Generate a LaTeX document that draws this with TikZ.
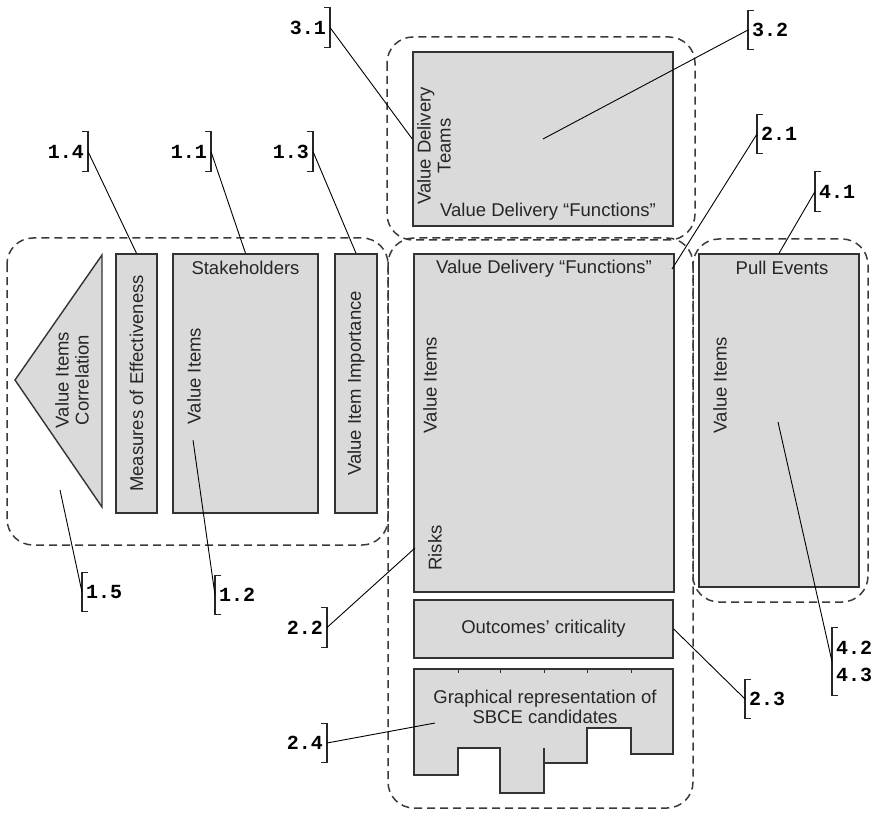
\documentclass[tikz,border=0pt]{standalone}
\usepackage{fontspec}
\setmainfont{Liberation Sans}
\newfontfamily\tagfont{Liberation Mono}
\definecolor{boxfill}{HTML}{DADADA}
\definecolor{boxline}{HTML}{333333}
\definecolor{groupline}{HTML}{3A3A3A}

\begin{document}
\begin{tikzpicture}[x=1pt,y=-1pt,
    box/.style={draw=boxline,fill=boxfill,line width=1.4pt,inner sep=0pt},
    group/.style={draw=groupline,line width=1.5pt,dash pattern=on 8pt off 5pt,rounded corners=26pt},
    txt/.style={text=black!85,font=\fontsize{18.5}{20}\selectfont,inner sep=0pt},
    tag/.style={font=\tagfont\bfseries\fontsize{20}{27}\selectfont,inner xsep=4pt,inner ysep=0pt,minimum height=39pt},
    brak/.style={line width=1.1pt,draw=black!85},
    lead/.style={line width=0.9pt}]
    \useasboundingbox (0,0) rectangle (880,818);

    \draw[group] (7,238) rectangle (388,545);
    \draw[group] (387,37) rectangle (695,240);
    \draw[group] (388,238) rectangle (693,808);
    \draw[group] (693,239) rectangle (868,602);

    \draw[box] (102,255) -- (15,380) -- (102,507) -- cycle;
    \node[box,minimum width=41pt,minimum height=259pt] (moe) at (136.5,383.5) {};
    \node[box,minimum width=145pt,minimum height=259pt] (stake) at (245.5,383.5) {};
    \node[box,minimum width=42pt,minimum height=259pt] (imp) at (356,383.5) {};
    \node[box,minimum width=260pt,minimum height=174pt] (vdteam) at (543,139) {};
    \node[box,minimum width=260pt,minimum height=338pt] (vdf) at (544,423) {};
    \node[box,minimum width=160pt,minimum height=333pt] (pull) at (779,420.5) {};
    \node[box,minimum width=259pt,minimum height=58pt] (outc) at (543.5,629) {};
    \draw[box] (414,669) -- (673,669) -- (673,754) -- (631,754) -- (631,728) -- (587,728)
        -- (587,763) -- (544,763) -- (544,793) -- (500,793) -- (500,748) -- (458,748)
        -- (458,775) -- (414,775) -- cycle;
    \draw[boxline,line width=1.2pt] (544,748) -- (544,763);
    \foreach \x in {458,500,544,587,631} {
        \draw[boxline,line width=1pt] (\x,669) -- (\x,673);
    }

    \node[txt,rotate=90,align=center] (corr) at (72,380) {Value Items\\Correlation};
    \node[txt,rotate=90] (moetxt) at (moe) {Measures of Effectiveness};
    \node[txt] (staketxt) at (245.5,268) {Stakeholders};
    \node[txt,rotate=90] (vistake) at (194,376) {Value Items};
    \node[txt,rotate=90] (imptxt) at (imp) {Value Item Importance};
    \node[txt,rotate=90,align=center] (teamtxt) at (434,146) {Value Delivery\\Teams};
    \node[txt] (functop) at (548,212) {Value Delivery “Functions”};
    \node[txt] (funcmid) at (544,269) {Value Delivery “Functions”};
    \node[txt,rotate=90] (vimid) at (430,385) {Value Items};
    \node[txt,rotate=90] (risks) at (435,548) {Risks};
    \node[txt] (pulltxt) at (782,268) {Pull Events};
    \node[txt,rotate=90] (vipull) at (720,385) {Value Items};
    \node[txt] (outctxt) at (outc) {Outcomes’ criticality};
    \node[txt,align=center] (graphtxt) at (545,706.5) {Graphical representation of\\SBCE candidates};

    \foreach \n/\x/\y/\t in {t31/330/27.5/3.1, t14/88/151.5/1.4, t11/211/151.5/1.1,
        t13/313/151.5/1.3, t22/327/627.5/2.2, t24/327/743/2.4} {
        \node[tag,anchor=east] (\n) at (\x,\y) {\t};
        \draw[brak] ([xshift=-6pt]\n.north east) -- (\n.north east) -- (\n.south east) -- ([xshift=-6pt]\n.south east);
    }
    \foreach \n/\x/\y/\t in {t32/748/30/3.2, t21/757/134/2.1, t41/815/191.5/4.1,
        t15/82/592/1.5, t12/215/595/1.2, t23/745/699/2.3} {
        \node[tag,anchor=west] (\n) at (\x,\y) {\t};
        \draw[brak] ([xshift=6pt]\n.north west) -- (\n.north west) -- (\n.south west) -- ([xshift=6pt]\n.south west);
    }
    \node[tag,anchor=west,align=left,minimum height=67pt] (t42) at (832,661.5) {4.2\\4.3};
    \draw[brak] ([xshift=6pt]t42.north west) -- (t42.north west) -- (t42.south west) -- ([xshift=6pt]t42.south west);

    \coordinate (p21) at (672,269);
    \coordinate (p15) at (60,490);
    \coordinate (p12) at (193,440);
    \coordinate (p22) at (415,548);
    \coordinate (p24) at (435,723);
    \coordinate (p42) at (778,422);

    \draw[lead] (t31.east) -- (vdteam.west);
    \draw[lead] (t32.west) -- (vdteam.center);
    \draw[lead] (t21.west) -- (p21);
    \draw[lead] (t41.west) -- (pull.north);
    \draw[lead] (t14.east) -- (moe.north);
    \draw[lead] (t11.east) -- (stake.north);
    \draw[lead] (t13.east) -- (imp.north);
    \draw[lead] (t15.west) -- (p15);
    \draw[lead] (t12.west) -- (p12);
    \draw[lead] (t22.east) -- (p22);
    \draw[lead] (t23.west) -- (outc.east);
    \draw[lead] (t24.east) -- (p24);
    \draw[lead] (t42.west) -- (p42);
\end{tikzpicture}
\end{document}
